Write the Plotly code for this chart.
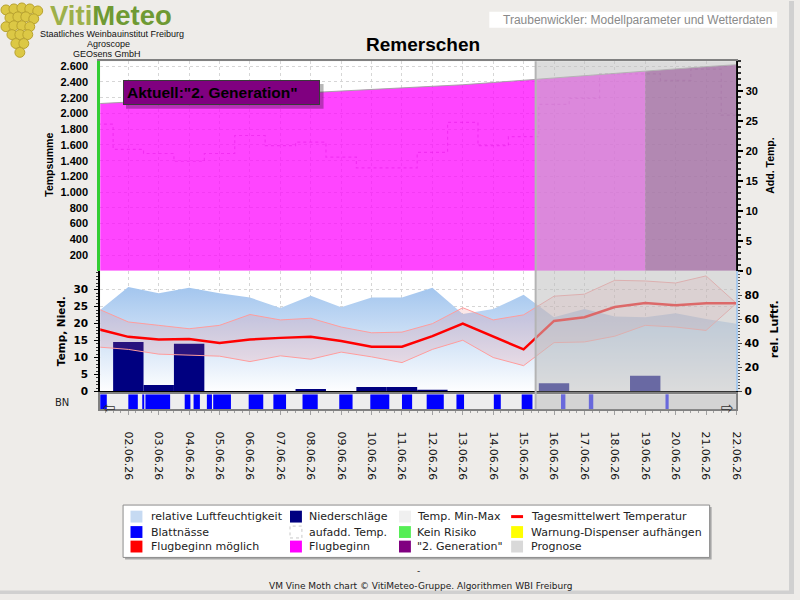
import plotly.graph_objects as go
import pandas as pd

# ---------------- data ----------------
dates = ["2026-06-01", "2026-06-02", "2026-06-03", "2026-06-04", "2026-06-05", "2026-06-06",
         "2026-06-07", "2026-06-08", "2026-06-09", "2026-06-10", "2026-06-11", "2026-06-12",
         "2026-06-13", "2026-06-14", "2026-06-15", "2026-06-16", "2026-06-17", "2026-06-18",
         "2026-06-19", "2026-06-20", "2026-06-21", "2026-06-22"]
tempsumme = [2125, 2145, 2164, 2183, 2202, 2221, 2240, 2259, 2278, 2297, 2316, 2337,
             2365, 2393, 2421, 2447, 2474, 2506, 2538, 2569, 2595, 2620]
add_temp = [24.5, 20.3, 19.6, 18.3, 19.6, 22.6, 20.9, 21.5, 19.0, 17.2, 17.2, 19.8,
            24.8, 20.9, 22.4, 27.8, 28.8, 32.9, 32.9, 31.8, 33.7, 26.0]
t_mean = [18.4, 16.1, 15.3, 15.5, 14.3, 15.3, 15.8, 16.1, 14.9, 13.2, 13.2, 16.3,
          20.0, 16.1, 12.4, 20.8, 21.9, 24.9, 26.1, 25.4, 26.0, 26.0]
t_max = [24.4, 20.5, 19.5, 18.5, 19.5, 22.7, 21.1, 21.6, 19.0, 17.3, 17.5, 20.0,
         24.7, 21.1, 22.6, 28.1, 28.7, 32.8, 32.6, 32.0, 34.1, 26.0]
t_min = [13.1, 12.4, 11.0, 10.7, 10.4, 8.8, 10.5, 9.5, 11.6, 10.2, 8.5, 12.4,
         15.1, 10.0, 7.6, 14.4, 14.6, 16.3, 19.5, 19.0, 18.0, 26.0]
rel_hum = [66.4, 86.9, 81.7, 86.3, 81.7, 78.1, 69.3, 79.5, 69.9, 78.1, 78.1, 86.3,
           64.4, 68.5, 80.3, 61.7, 68.5, 62.2, 61.7, 65.0, 60.3, 56.2]
precip = [0, 14.6, 1.9, 14.1, 0, 0, 0, 0.7, 0, 1.3, 1.3, 0.2,
          0, 0, 0, 2.4, 0, 0, 4.6, 0, 0, 0]
bn_start = ["2026-06-01 01:00", "2026-06-02 00:00", "2026-06-02 11:00", "2026-06-02 13:30",
            "2026-06-03 20:30", "2026-06-04 03:30", "2026-06-04 14:00", "2026-06-04 19:00",
            "2026-06-05 23:00", "2026-06-06 18:30", "2026-06-07 17:30", "2026-06-08 22:30",
            "2026-06-09 23:00", "2026-06-11 00:00", "2026-06-11 19:30", "2026-06-12 19:00",
            "2026-06-14 00:30", "2026-06-14 22:30", "2026-06-16 05:30", "2026-06-17 03:30",
            "2026-06-19 16:00"]
bn_end = ["2026-06-01 07:00", "2026-06-02 07:30", "2026-06-02 12:30", "2026-06-03 09:00",
          "2026-06-04 01:00", "2026-06-04 08:30", "2026-06-04 18:00", "2026-06-05 09:00",
          "2026-06-06 10:30", "2026-06-07 04:30", "2026-06-08 05:30", "2026-06-09 09:00",
          "2026-06-10 14:00", "2026-06-11 08:00", "2026-06-12 09:00", "2026-06-13 01:00",
          "2026-06-14 06:00", "2026-06-15 07:00", "2026-06-16 09:00", "2026-06-17 07:00",
          "2026-06-19 18:30"]
gen2_from = "2026-06-19"
prognose_from = "2026-06-15 09:30"
x_start = "2026-06-01 01:50"
x_end = "2026-06-22 00:00"
tick_dates = dates[1:]
tick_labels = ["02.06.26", "03.06.26", "04.06.26", "05.06.26", "06.06.26", "07.06.26",
               "08.06.26", "09.06.26", "10.06.26", "11.06.26", "12.06.26", "13.06.26",
               "14.06.26", "15.06.26", "16.06.26", "17.06.26", "18.06.26", "19.06.26",
               "20.06.26", "21.06.26", "22.06.26"]
tempsumme_ticks = [200, 400, 600, 800, 1000, 1200, 1400, 1600, 1800, 2000, 2200, 2400, 2600]
addtemp_ticks = [0, 5, 10, 15, 20, 25, 30]
temp_ticks = [0, 5, 10, 15, 20, 25, 30]
hum_ticks = [0, 20, 40, 60, 80]
legend_labels = ["relative Luftfeuchtigkeit", "Niederschläge", "Temp. Min-Max", "Tagesmittelwert Temperatur",
                 "Blattnässe", "aufadd. Temp.", "Kein Risiko", "Warnung-Dispenser aufhängen",
                 "Flugbeginn möglich", "Flugbeginn", "\"2. Generation\"", "Prognose"]
legend_colors = ["#C6DAF2", "#000080", "#F0F0F0", "#FF0000",
                 "#0000FF", "#FFFFFF", "#55EE55", "#FFFF00",
                 "#FF0000", "#FF00FF", "#800080", "#D9D9D9"]
legend_kinds = ["box", "box", "box", "line",
                "box", "dotbox", "box", "box",
                "box", "box", "box", "box"]

# ---------------- helpers ----------------
W, H = 800, 600
BG = "#EEECE9"


def px(x):
    return x / W


def py(y):
    return 1 - y / H


XD = [px(101), px(742)]
GRID = "#D6D6D6"

fig = go.Figure()

# ---------- upper panel ----------
fig.add_trace(go.Scatter(x=dates, y=add_temp, xaxis="x", yaxis="y", mode="lines",
                         line=dict(shape="hvh", dash="dot", color="rgba(110,0,110,0.33)", width=1.2),
                         hoverinfo="skip"))
fb_x = [d for d in dates if d <= gen2_from]
fb_y = [v for d, v in zip(dates, tempsumme) if d <= gen2_from]
g2_x = [d for d in dates if d >= gen2_from]
g2_y = [v for d, v in zip(dates, tempsumme) if d >= gen2_from]
fig.add_trace(go.Scatter(x=fb_x, y=fb_y, xaxis="x", yaxis="y2", mode="lines", fill="tozeroy",
                         fillcolor="rgba(255,0,255,0.73)",
                         line=dict(color="rgba(160,160,160,0.9)", width=1)))
fig.add_trace(go.Scatter(x=g2_x, y=g2_y, xaxis="x", yaxis="y2", mode="lines", fill="tozeroy",
                         fillcolor="rgba(128,0,128,0.73)",
                         line=dict(color="rgba(160,160,160,0.9)", width=1)))

# ---------- lower panel ----------
fig.add_trace(go.Scatter(x=dates, y=rel_hum, xaxis="x2", yaxis="y3", mode="lines", fill="tozeroy",
                         line=dict(width=0, color="rgba(0,0,0,0)"),
                         fillgradient=dict(type="vertical",
                                           colorscale=[[0, "#FFFFFF"], [1, "#A2C5EE"]],
                                           start=0, stop=88)))
fig.add_trace(go.Bar(x=dates, y=precip, xaxis="x2", yaxis="y4", width=86400000,
                     marker=dict(color="#000080", line=dict(width=0))))
fig.add_trace(go.Scatter(x=dates, y=t_min, xaxis="x2", yaxis="y4", mode="lines",
                         line=dict(color="#FF9C9C", width=1)))
fig.add_trace(go.Scatter(x=dates, y=t_max, xaxis="x2", yaxis="y4", mode="lines", fill="tonexty",
                         fillcolor="rgba(240,110,120,0.17)",
                         line=dict(color="#FF9C9C", width=1)))
fig.add_trace(go.Scatter(x=dates, y=t_mean, xaxis="x2", yaxis="y4", mode="lines",
                         line=dict(color="#FF0000", width=2.5)))

# ---------- BN strip ----------
s = pd.to_datetime(pd.Series(bn_start))
e = pd.to_datetime(pd.Series(bn_end))
dur = ((e - s).dt.total_seconds() * 1000).tolist()
fig.add_trace(go.Bar(y=[0.5] * len(bn_start), x=dur, base=bn_start, orientation="h", width=1,
                     xaxis="x3", yaxis="y5", marker=dict(color="#0000FF", line=dict(width=0))))

shapes = []
annotations = []

# BN background
shapes.append(dict(type="rect", xref="x3 domain", yref="y5 domain", x0=0, x1=1, y0=0, y1=1,
                   fillcolor="#EEEEEE", line=dict(width=0), layer="below"))

# prognosis overlay
for xr, yr in [("x", "y domain"), ("x2", "y3 domain"), ("x3", "y5 domain")]:
    shapes.append(dict(type="rect", xref=xr, yref=yr, x0=prognose_from, x1=x_end, y0=0, y1=1,
                       fillcolor="rgba(191,191,191,0.55)", line=dict(width=0), layer="above"))
shapes.append(dict(type="line", xref="x", yref="paper", x0=prognose_from, x1=prognose_from,
                   y0=py(413), y1=py(61), line=dict(color="#B4B4B4", width=2), layer="above"))

# annotation box shadow
shapes.append(dict(type="rect", xref="paper", yref="paper", x0=px(127), x1=px(326), y0=py(109), y1=py(84),
                   fillcolor="rgba(0,0,0,0.28)", line=dict(width=0), layer="above"))
annotations.append(dict(xref="paper", yref="paper", x=px(124), y=py(80), xanchor="left", yanchor="top",
                        text="Aktuell:\"2. Generation\"", showarrow=False, align="left",
                        width=189, height=17, bgcolor="#800080", bordercolor="#3A3A3A",
                        borderwidth=1, borderpad=3,
                        font=dict(family="Liberation Sans", size=15.5, color="black", weight="bold")))

# axis titles
annotations += [
    dict(xref="paper", yref="paper", x=px(48.5), y=py(165.5), text="<b>Tempsumme</b>", textangle=-90,
         showarrow=False, xanchor="center", yanchor="middle",
         font=dict(family="Liberation Sans", size=10.5, color="black")),
    dict(xref="paper", yref="paper", x=px(775), y=py(166.5), text="<b>Add. Temp.</b>", textangle=-90,
         showarrow=False, xanchor="center", yanchor="middle",
         font=dict(family="Liberation Sans", size=10.5, color="black")),
    dict(xref="paper", yref="paper", x=px(61.5), y=py(334), text="<b>Temp, Nied.</b>", textangle=-90,
         showarrow=False, xanchor="center", yanchor="middle",
         font=dict(family="DejaVu Sans", size=10.5, color="black")),
    dict(xref="paper", yref="paper", x=px(780), y=py(332), text="<b>rel. Luftf.</b>", textangle=-90,
         showarrow=False, xanchor="center", yanchor="middle",
         font=dict(family="DejaVu Sans", size=11, color="black")),
    dict(xref="paper", yref="paper", x=px(62), y=py(406), text="BN",
         showarrow=False, xanchor="center", yanchor="middle",
         font=dict(family="DejaVu Sans", size=10, color="#222")),
    dict(xref="paper", yref="paper", x=px(110), y=py(412), text="⇦",
         showarrow=False, xanchor="center", yanchor="middle",
         font=dict(family="DejaVu Sans", size=15, color="#333")),
    dict(xref="paper", yref="paper", x=px(733), y=py(412), text="⇨",
         showarrow=False, xanchor="center", yanchor="middle",
         font=dict(family="DejaVu Sans", size=15, color="#333")),
]

# title
annotations.append(dict(xref="paper", yref="paper", x=px(426.5), y=py(44), text="<b>Remerschen</b>",
                        showarrow=False, xanchor="center", yanchor="middle",
                        font=dict(family="Liberation Sans", size=19, color="black")))

# header right box
shapes.append(dict(type="rect", xref="paper", yref="paper", x0=px(493), x1=px(783), y0=py(27), y1=py(11),
                   fillcolor="white", line=dict(width=0), layer="above"))
annotations.append(dict(xref="paper", yref="paper", x=px(780), y=py(19.5),
                        text="Traubenwickler: Modellparameter und Wetterdaten",
                        showarrow=False, xanchor="right", yanchor="middle",
                        font=dict(family="Liberation Sans", size=12, color="#8A8A8A")))

# logo: grapes (decoration) and text
grape_cx = [6, 14, 22, 30, 38, 10, 18, 26, 34, 6, 14, 22, 30, 12, 20, 28, 16, 24, 20]
grape_cy = [9, 8, 7, 8, 10, 17, 16, 16, 18, 26, 25, 25, 26, 34, 34, 34, 43, 43, 52]
for cx, cy in zip(grape_cx, grape_cy):
    shapes.append(dict(type="circle", xref="paper", yref="paper",
                       x0=px(cx - 5), x1=px(cx + 5), y0=py(cy + 5), y1=py(cy - 5),
                       fillcolor="#DCC845", line=dict(color="#B8A22E", width=1), layer="above"))
annotations += [
    dict(xref="paper", yref="paper", x=px(112), y=py(0), yshift=3,
         text="<span style='color:#9DB04A'>Viti</span><span style='color:#6F9A33'>Meteo</span>",
         showarrow=False, xanchor="center", yanchor="top",
         font=dict(family="Liberation Sans", size=27.5, color="#7FA03A", weight="bold")),
    dict(xref="paper", yref="paper", x=px(113), y=py(33.5), text="Staatliches Weinbauinstitut Freiburg",
         showarrow=False, xanchor="center", yanchor="middle",
         font=dict(family="Liberation Sans", size=9, color="#111")),
    dict(xref="paper", yref="paper", x=px(109), y=py(43.5), text="Agroscope",
         showarrow=False, xanchor="center", yanchor="middle",
         font=dict(family="Liberation Sans", size=9, color="#111")),
    dict(xref="paper", yref="paper", x=px(108), y=py(53.5), text="GEOsens GmbH",
         showarrow=False, xanchor="center", yanchor="middle",
         font=dict(family="Liberation Sans", size=9, color="#111")),
]

# legend (manual)
shapes.append(dict(type="rect", xref="paper", yref="paper", x0=px(126), x1=px(717), y0=py(565), y1=py(512),
                   fillcolor="#A8A8A8", line=dict(width=0), layer="above"))
shapes.append(dict(type="rect", xref="paper", yref="paper", x0=px(124), x1=px(715), y0=py(563), y1=py(510),
                   fillcolor="white", line=dict(color="#8C8C8C", width=1), layer="above"))
row_y = [521.7, 537.3, 552.0]
icon_x = [131.5, 292.2, 402.0, 515.0]
text_x = [149.8, 309.4, 417.7, 532.5]
for i, (lab, col, kind) in enumerate(zip(legend_labels, legend_colors, legend_kinds)):
    r, c = divmod(i, 4)
    yy = row_y[r]
    xx = icon_x[c]
    if kind == "line":
        shapes.append(dict(type="line", xref="paper", yref="paper", x0=px(xx), x1=px(xx + 12),
                           y0=py(yy), y1=py(yy), line=dict(color=col, width=3), layer="above"))
    elif kind == "dotbox":
        shapes.append(dict(type="rect", xref="paper", yref="paper", x0=px(xx), x1=px(xx + 12),
                           y0=py(yy + 6), y1=py(yy - 6), fillcolor=col,
                           line=dict(color="#C8C8C8", width=1, dash="dot"), layer="above"))
    else:
        shapes.append(dict(type="rect", xref="paper", yref="paper", x0=px(xx), x1=px(xx + 12),
                           y0=py(yy + 6), y1=py(yy - 6), fillcolor=col,
                           line=dict(width=0), layer="above"))
    annotations.append(dict(xref="paper", yref="paper", x=px(text_x[c]), y=py(yy), text=lab,
                            showarrow=False, xanchor="left", yanchor="middle",
                            font=dict(family="DejaVu Sans", size=11, color="#222")))

# footer
annotations += [
    dict(xref="paper", yref="paper", x=px(422), y=py(577), text="-", showarrow=False,
         xanchor="center", yanchor="middle", font=dict(family="DejaVu Sans", size=9, color="#222")),
    dict(xref="paper", yref="paper", x=px(424), y=py(591.5),
         text="VM Vine Moth chart © VitiMeteo-Gruppe. Algorithmen WBI Freiburg", showarrow=False,
         xanchor="center", yanchor="middle", font=dict(family="DejaVu Sans", size=9, color="#222")),
]

# page borders
shapes.append(dict(type="rect", xref="paper", yref="paper", x0=px(795), x1=1, y0=0, y1=1,
                   fillcolor="#D0D0D0", line=dict(width=0), layer="above"))
shapes.append(dict(type="rect", xref="paper", yref="paper", x0=0, x1=1, y0=0, y1=py(596.5),
                   fillcolor="#D0D0D0", line=dict(width=0), layer="above"))

tick_bold_arial = dict(family="Liberation Sans", size=11, color="black", weight="bold")
tick_bold_dv = dict(family="DejaVu Sans", size=10.5, color="black", weight="bold")

fig.update_layout(
    width=W, height=H, margin=dict(l=0, r=0, t=0, b=0),
    paper_bgcolor=BG, plot_bgcolor="white", showlegend=False, barmode="overlay",
    separators=",.",
    xaxis=dict(domain=XD, type="date", range=[x_start, x_end], anchor="y", side="top",
               showline=True, linecolor="#808080", linewidth=2, showticklabels=False, ticks="",
               tickvals=tick_dates, showgrid=True, gridcolor=GRID, griddash="dot", zeroline=False),
    xaxis2=dict(domain=XD, type="date", matches="x", anchor="y3", showline=True, linecolor="black",
                linewidth=1.5, showticklabels=False, ticks="", tickvals=tick_dates,
                showgrid=True, gridcolor=GRID, griddash="dot", zeroline=False),
    xaxis3=dict(domain=XD, type="date", matches="x", anchor="y5", showline=True, mirror=True,
                linecolor="#808080", linewidth=2, tickmode="array", tickvals=tick_dates,
                ticktext=tick_labels, tickangle=90, ticks="outside", ticklen=4, tickcolor="#A0A0A0",
                minor=dict(tickmode="linear", tick0="2026-06-01", dtick=6 * 3600000,
                           ticks="outside", ticklen=2, tickcolor="#A0A0A0"),
                tickfont=dict(family="DejaVu Sans", size=11, color="#111"),
                ticklabelstandoff=14, showgrid=False, zeroline=False),
    yaxis=dict(domain=[py(273), py(61)], anchor="x", side="right", range=[0, 35],
               showline=True, linecolor="black", linewidth=2, ticks="outside", ticklen=5,
               tickwidth=1.5, tickcolor="black", tickmode="array", tickvals=addtemp_ticks,
               minor=dict(tickmode="linear", tick0=0, dtick=1, ticks="outside", ticklen=3, tickcolor="#333"),
               tickfont=tick_bold_arial, showgrid=False, zeroline=False),
    yaxis2=dict(overlaying="y", anchor="x", side="left", range=[0, 2663],
                showline=True, linecolor="#33CC33", linewidth=3, ticks="",
                tickvals=tempsumme_ticks, tickformat=",d", ticklabelstandoff=7,
                tickfont=tick_bold_arial, showgrid=True, gridcolor=GRID, griddash="dot",
                zeroline=False),
    yaxis3=dict(domain=[py(395), py(273)], anchor="x2", side="right", range=[0, 100.3],
                showline=True, linecolor="#A6CAF0", linewidth=2, ticks="outside", ticklen=4,
                tickcolor="#444", tickmode="array", tickvals=hum_ticks,
                minor=dict(tickmode="linear", tick0=0, dtick=2.5, ticks="outside", ticklen=2, tickcolor="#555"),
                tickfont=tick_bold_dv, showgrid=False, zeroline=False),
    yaxis4=dict(overlaying="y3", anchor="x2", side="left", range=[0, 35.6],
                showline=True, linecolor="black", linewidth=2, ticks="outside", ticklen=4,
                tickcolor="black", tickmode="array", tickvals=temp_ticks,
                minor=dict(tickmode="linear", tick0=0, dtick=1, ticks="outside", ticklen=2, tickcolor="#333"),
                tickfont=tick_bold_dv, ticklabelstandoff=4,
                showgrid=True, gridcolor=GRID, griddash="dot", zeroline=False),
    yaxis5=dict(domain=[py(413), py(398)], anchor="x3", range=[0, 1], showticklabels=False,
                ticks="", showline=True, mirror=True, linecolor="#808080", linewidth=2,
                showgrid=False, zeroline=False),
    shapes=shapes,
    annotations=annotations,
)

fig.write_html("out.html")
